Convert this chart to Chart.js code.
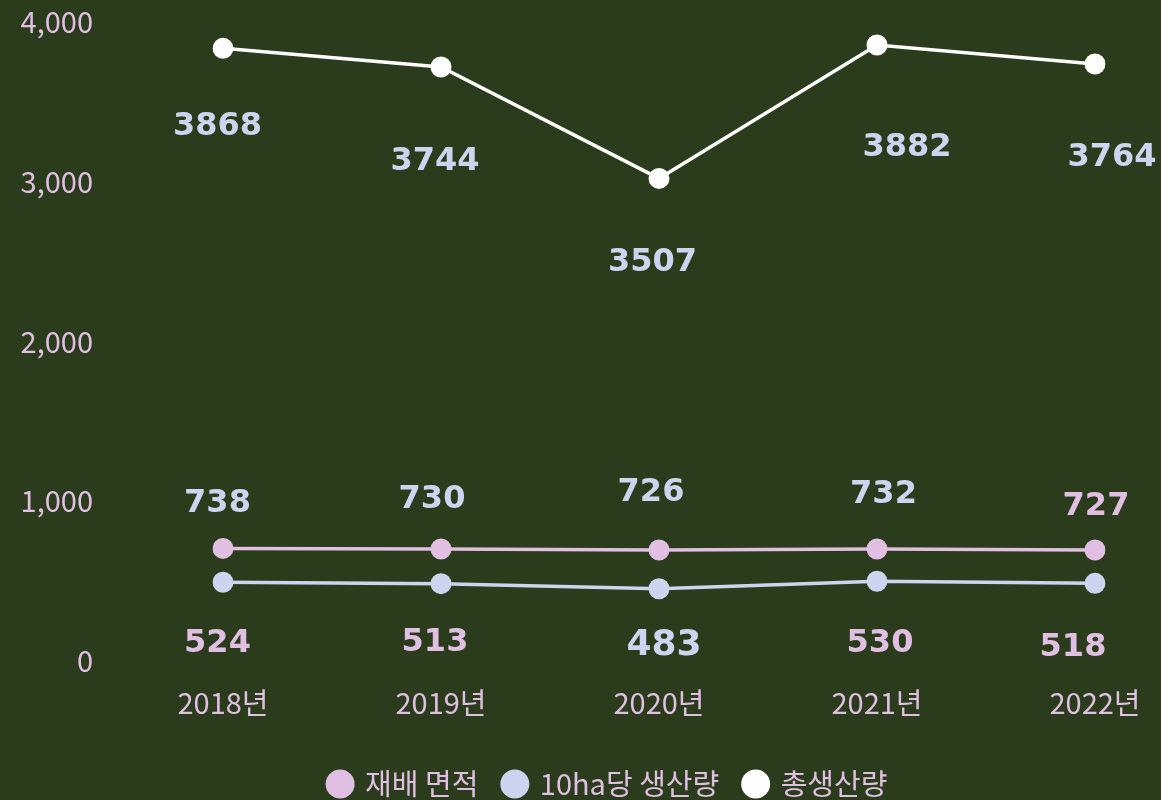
<!DOCTYPE html>
<html>
<head>
<meta charset="utf-8">
<script src="https://cdn.jsdelivr.net/npm/chart.js@4.4.1/dist/chart.umd.min.js"></script>
<style>
  html, body { margin: 0; padding: 0; background: #2a3c1c; }
  #wrap { width: 1161px; height: 800px; }
</style>
</head>
<body>
<div id="wrap"><canvas id="c" width="1161" height="800"></canvas></div>
<script>
// ---- data ----
const categories = ['2018년', '2019년', '2020년', '2021년', '2022년'];
const seriesNames = ['재배 면적', '10ha당 생산량', '총생산량'];
// plotted values (as read from the point positions)
const areaValues  = [705, 701, 695, 701, 695];
const yieldValues = [493, 484, 452, 499, 486];
const totalValues = [3835, 3718, 3021, 3856, 3737];
// value labels printed on the chart
const areaLabels  = ['738', '730', '726', '732', '727'];
const yieldLabels = ['524', '513', '483', '530', '518'];
const totalLabels = ['3868', '3744', '3507', '3882', '3764'];
const yTicks = [0, 1000, 2000, 3000, 4000];

// ---- styles ----
const PINK = '#e0bfe3';
const LAV = '#cdd4f0';
const WHITE = '#ffffff';
const CJK = "'Noto Sans CJK KR', 'Noto Sans', sans-serif";
const LABEL_FONT = "'DejaVu Sans', sans-serif";

const labelLayout = [
  { texts: areaLabels,  dx: [-5.5, -9, -8, 6.5, 1],   dy: [-45, -49, -57, -54.5, -43.5],
    colors: [LAV, LAV, LAV, LAV, PINK], sizes: [32, 32, 32, 32, 32] },
  { texts: yieldLabels, dx: [-5.5, -6, 5, 3, -22],    dy: [61, 59, 56.5, 62, 64],
    colors: [PINK, PINK, LAV, PINK, PINK], sizes: [32, 32, 36, 32, 32] },
  { texts: totalLabels, dx: [-5.5, -6, -6.5, 30, 17], dy: [78.5, 94.5, 84, 103, 94],
    colors: [LAV, LAV, LAV, LAV, LAV], sizes: [32, 32, 32, 32, 32] }
];

const valueLabelPlugin = {
  id: 'valueLabels',
  afterDatasetsDraw(chart) {
    const ctx = chart.ctx;
    ctx.save();
    ctx.textAlign = 'center';
    ctx.textBaseline = 'middle';
    labelLayout.forEach((cfg, di) => {
      const meta = chart.getDatasetMeta(di);
      meta.data.forEach((pt, i) => {
        ctx.font = 'bold ' + cfg.sizes[i] + 'px ' + LABEL_FONT;
        ctx.fillStyle = cfg.colors[i];
        ctx.fillText(cfg.texts[i], pt.x + cfg.dx[i], pt.y + cfg.dy[i]);
      });
    });
    ctx.restore();
  }
};

function makeDataset(label, data, color) {
  return {
    label, data,
    yAxisID: 'y',
    borderColor: color,
    backgroundColor: color,
    pointBackgroundColor: color,
    pointBorderColor: color,
    pointBorderWidth: 0,
    pointRadius: 10.5,
    pointHoverRadius: 10.5,
    borderWidth: 3.5,
    tension: 0
  };
}

new Chart(document.getElementById('c'), {
  type: 'line',
  data: {
    labels: categories,
    datasets: [
      makeDataset(seriesNames[0], areaValues, PINK),
      makeDataset(seriesNames[1], yieldValues, LAV),
      makeDataset(seriesNames[2], totalValues, WHITE)
    ]
  },
  options: {
    responsive: false,
    animation: false,
    events: [],
    layout: { padding: { top: 22, left: 18, right: -38, bottom: -8.5 } },
    scales: {
      x: {
        offset: false,
        grid: { display: false, drawTicks: false },
        border: { display: false },
        ticks: { color: PINK, font: { family: CJK, size: 29, weight: 400 }, padding: 24.6, maxRotation: 0 },
        afterFit(scale) {
          scale.height = 82.5;
          scale.paddingLeft = 0;
          scale.paddingRight = 0;
        }
      },
      y: {
        position: 'left',
        min: yTicks[0],
        max: yTicks[yTicks.length - 1],
        grid: { display: false, drawTicks: false },
        border: { display: false },
        ticks: {
          stepSize: yTicks[1] - yTicks[0],
          color: PINK,
          font: { family: CJK, size: 29, weight: 400 },
          padding: 130,
          autoSkip: false,
          callback: v => Number(v).toLocaleString('en-US')
        },
        afterFit(scale) {
          scale.width = 223 - 18;
          scale.paddingTop = 0;
          scale.paddingBottom = 0;
        }
      },
      spacer: {
        type: 'linear',
        position: 'right',
        display: true,
        grid: { display: false, drawTicks: false },
        border: { display: false },
        ticks: { display: false },
        afterFit(scale) {
          scale.width = 104;
          scale.paddingTop = 0;
          scale.paddingBottom = 0;
        }
      }
    },
    plugins: {
      legend: {
        position: 'bottom',
        labels: {
          usePointStyle: true,
          pointStyle: 'circle',
          boxWidth: 21,
          boxHeight: 20.5,
          padding: 26,
          color: PINK,
          font: { family: CJK, size: 29, weight: 400 }
        }
      },
      tooltip: { enabled: false }
    }
  },
  plugins: [valueLabelPlugin]
});
</script>
</body>
</html>
